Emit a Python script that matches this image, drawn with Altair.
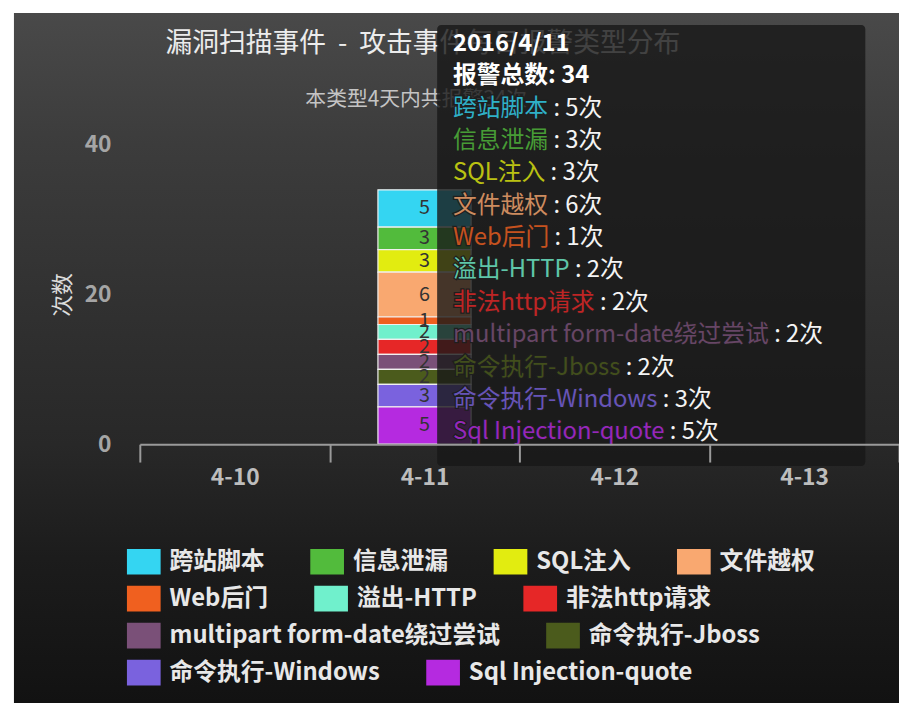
import altair as alt
import pandas as pd

# ---------------- data ----------------
dates = ["4-10", "4-11", "4-12", "4-13"]
bar_date = "4-11"
categories = [
    "跨站脚本", "信息泄漏", "SQL注入", "文件越权",
    "Web后门", "溢出-HTTP", "非法http请求",
    "multipart form-date绕过尝试", "命令执行-Jboss",
    "命令执行-Windows", "Sql Injection-quote",
]
counts = [5, 3, 3, 6, 1, 2, 2, 2, 2, 3, 5]
colors = [
    "#34d5f2", "#52bb3c", "#e2ec10", "#f9a870",
    "#f0601f", "#70f0cc", "#e62727",
    "#7a5078", "#4b5b1c",
    "#7a62de", "#b52ae0",
]
legend_rows = [0, 0, 0, 0, 1, 1, 1, 2, 2, 3, 3]
y_ticks = [0, 20, 40]
y_max = 40
title_text = "漏洞扫描事件\u00a0\u00a0-\u00a0\u00a0攻击事件每日报警类型分布"
subtitle_text = "本类型4天内共报警34次"
tooltip_title = "2016/4/11"
tooltip_total_label = "报警总数"
count_unit = "次"

# ---------------- layout / style ----------------
FONT = "Noto Sans CJK SC"
W, H = 766, 302
PAD = {"left": 133, "top": 135, "right": 0, "bottom": 261}

df = pd.DataFrame({
    "date": [bar_date] * len(categories),
    "cat": categories,
    "val": counts,
    "idx": list(range(len(categories))),
    "row": legend_rows,
    "color": colors,
})

# tooltip table (header lines + one line per series)
tip = pd.DataFrame({
    "line": list(range(len(categories) + 2)),
    "full": [tooltip_title, f"{tooltip_total_label}: {sum(counts)}"]
            + [f"{c} : {v}{count_unit}" for c, v in zip(categories, counts)],
    "name": ["", ""] + categories,
    "color": ["#ffffff", "#ffffff"] + colors,
})

one = pd.DataFrame({"k": [0]})

x_scale = alt.Scale(domain=dates, paddingInner=0, paddingOuter=0)
y_scale = alt.Scale(domain=[0, y_max], nice=False)
x_axis = alt.Axis(title=None, labelAngle=0, tickBand="extent",
                  domainColor="#9a9a9a", domainWidth=2,
                  tickColor="#9a9a9a", tickWidth=2, tickSize=18,
                  labelFont=FONT, labelFontSize=23, labelFontWeight="bold",
                  labelColor="#bdbdbd", labelPadding=5, zindex=1)
y_axis = alt.Axis(title="次数", values=y_ticks, domain=False, ticks=False, grid=False,
                  labelFont=FONT, labelFontSize=23, labelFontWeight="bold",
                  labelColor="#a5a5a5", labelPadding=29,
                  titleFont=FONT, titleFontSize=22, titleFontWeight="normal",
                  titleColor="#dcdcdc", titlePadding=10, zindex=1)

bg = alt.Chart(one).mark_rect(
    fill=alt.LinearGradient(
        gradient="linear",
        stops=[
            alt.GradientStop(color="#494949", offset=0),
            alt.GradientStop(color="#3c3c3c", offset=0.19),
            alt.GradientStop(color="#313131", offset=0.42),
            alt.GradientStop(color="#282828", offset=0.625),
            alt.GradientStop(color="#1c1c1c", offset=0.79),
            alt.GradientStop(color="#121212", offset=1),
        ],
        x1=0, x2=0, y1=0, y2=1,
    )
).encode(x=alt.value(-127), x2=alt.value(W), y=alt.value(-133), y2=alt.value(H + PAD["bottom"]))

stacked = alt.Chart(df).transform_stack(
    stack="val", as_=["y0", "y1"], groupby=["date"],
    sort=[alt.SortField("idx", order="descending")],
)

bar_layers = []
for k in range(4):
    cats_k = [c for c, r in zip(categories, legend_rows) if r == k]
    cols_k = [c for c, r in zip(colors, legend_rows) if r == k]
    bar_layers.append(
        stacked.transform_filter(alt.datum.row == k).mark_bar(
            size=94, stroke="#f0f0f0", strokeWidth=1.2
        ).encode(
            x=alt.X("date:N", scale=x_scale, axis=x_axis),
            y=alt.Y("y0:Q", scale=y_scale, axis=y_axis),
            y2=alt.Y2("y1:Q"),
            color=alt.Color(
                "cat:N",
                scale=alt.Scale(domain=cats_k, range=cols_k),
                legend=alt.Legend(
                    orient="none", legendX=-13, legendY=403.5 + 37.3 * k,
                    direction="horizontal", title=None,
                    symbolType="M-1,-0.76H1V0.76H-1Z", symbolSize=1156,
                    symbolStrokeWidth=0, symbolOpacity=1,
                    labelFont=FONT, labelFontSize=24, labelFontWeight="bold",
                    labelColor="#e8e8e8", labelLimit=600, labelOffset=9,
                    columnPadding=46, padding=0,
                ),
            ),
        )
    )

labels = stacked.transform_calculate(ymid="(datum.y0 + datum.y1) / 2").mark_text(
    font=FONT, fontSize=20, color="#333333", align="center", baseline="middle"
).encode(
    x=alt.X("date:N", scale=x_scale, axis=x_axis),
    y=alt.Y("ymid:Q", scale=y_scale, axis=y_axis),
    text="val:Q",
)

bars_group = alt.layer(*bar_layers, labels).resolve_scale(color="independent")

title_mark = alt.Chart(one).mark_text(
    text=title_text, font=FONT, fontSize=27, color="#ececec",
    align="left", baseline="middle"
).encode(x=alt.value(26), y=alt.value(-102))

subtitle_mark = alt.Chart(one).mark_text(
    text=subtitle_text, font=FONT, fontSize=21, color="#c4c4c4",
    align="left", baseline="middle"
).encode(x=alt.value(167), y=alt.value(-45))

tip_box = alt.Chart(one).mark_rect(
    color="#181818", opacity=0.8, cornerRadius=4
).encode(x=alt.value(300), x2=alt.value(732), y=alt.value(-121), y2=alt.value(324))

# tooltip lines on their own point scale (line index -> pixel row)
tip_y = alt.Y("line:O", axis=None,
              scale=alt.Scale(type="point", domain=list(range(len(tip))),
                              range=[-102, 290], padding=0))
tip_base = alt.Chart(tip)

tip_header = tip_base.transform_filter(alt.datum.line < 2).mark_text(
    font=FONT, fontSize=24, fontWeight="bold", color="#ffffff",
    align="left", baseline="middle"
).encode(x=alt.value(316), y=tip_y, text="full:N")

tip_full = tip_base.transform_filter(alt.datum.line >= 2).mark_text(
    font=FONT, fontSize=24, color="#f4f4f4", align="left", baseline="middle"
).encode(x=alt.value(316), y=tip_y, text="full:N")

tip_erase = tip_base.transform_filter(alt.datum.line >= 2).mark_text(
    font=FONT, fontSize=24, fill="#1e1e1e", stroke="#1e1e1e", strokeWidth=2.5,
    align="left", baseline="middle"
).encode(x=alt.value(316), y=tip_y, text="name:N")

tip_name = tip_base.transform_filter(alt.datum.line >= 2).mark_text(
    font=FONT, fontSize=24, opacity=0.8, align="left", baseline="middle"
).encode(x=alt.value(316), y=tip_y, text="name:N",
         color=alt.Color("color:N", scale=None))

tips_group = alt.layer(tip_header, tip_full, tip_erase, tip_name)

chart = alt.layer(
    bg, bars_group, title_mark, subtitle_mark, tip_box, tips_group
).resolve_scale(y="independent", color="independent").properties(
    width=W, height=H, padding=PAD,
    autosize=alt.AutoSizeParams(type="none"),
    background="#ffffff",
).configure_view(strokeWidth=0)

chart.save("out.html", embed_options={"renderer": "svg", "actions": False})
